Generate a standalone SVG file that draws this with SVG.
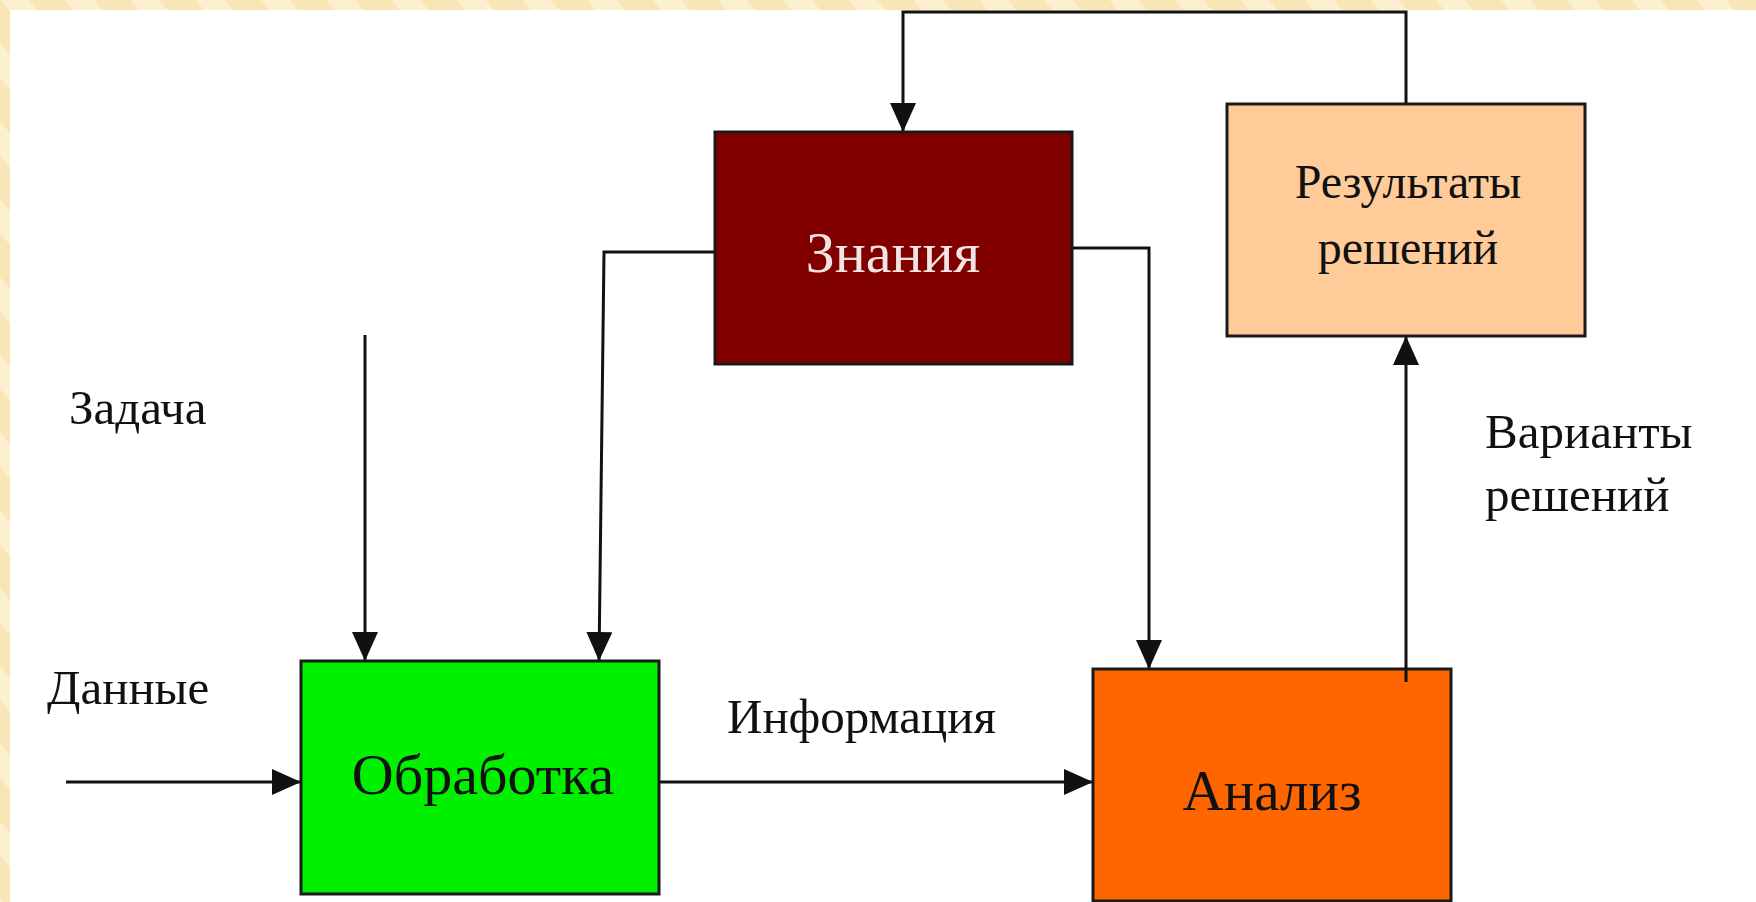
<svg xmlns="http://www.w3.org/2000/svg" width="1756" height="902" viewBox="0 0 1756 902">
  <defs>
    <pattern id="stripes" patternUnits="userSpaceOnUse" width="50" height="50" patternTransform="rotate(-40)">
      <rect width="50" height="50" fill="#F8E6B6"/>
      <rect width="22" height="50" fill="#FCF0D0"/>
    </pattern>
    <marker id="arrow" markerUnits="userSpaceOnUse" markerWidth="32" markerHeight="28" refX="29" refY="13" orient="auto">
      <path d="M0,0 L29,13 L0,26 z" fill="#111"/>
    </marker>
  </defs>
  <style>
    .box { stroke: #1a1a1a; stroke-width: 3; }
    .lbl { font-family: "Liberation Serif", "Times New Roman", serif; fill: #111; }
    .big { font-size: 58px; text-anchor: middle; }
    .mid { font-size: 48px; text-anchor: middle; }
    .side { font-size: 49px; }
    .conn { fill: none; stroke: #111; stroke-width: 3; }
  </style>

  <rect width="1756" height="902" fill="#FFFFFF"/>
  <rect x="0" y="0" width="1756" height="10" fill="url(#stripes)"/>
  <rect x="0" y="0" width="10" height="902" fill="url(#stripes)"/>

  <g id="connectors">
    <path class="conn" d="M1406,104 V12 H903 V132" marker-end="url(#arrow)"/>
    <path class="conn" d="M365,335 V661" marker-end="url(#arrow)"/>
    <path class="conn" d="M715,252 H604 L599,661" marker-end="url(#arrow)"/>
    <path class="conn" d="M1072,248 H1149 V669" marker-end="url(#arrow)"/>
    <path class="conn" d="M66,782 H301" marker-end="url(#arrow)"/>
    <path class="conn" d="M659,782 H1093" marker-end="url(#arrow)"/>
  </g>

  <g id="node-znaniya">
    <rect class="box" x="715" y="132" width="357" height="232" fill="#800000"/>
    <text class="lbl big" x="893" y="272" style="fill:#F3E4E4">Знания</text>
  </g>

  <g id="node-obrabotka">
    <rect class="box" x="301" y="661" width="358" height="233" fill="#00F000"/>
    <text class="lbl big" x="483" y="794">Обработка</text>
  </g>

  <g id="node-analiz">
    <rect class="box" x="1093" y="669" width="358" height="232" fill="#FF6600"/>
    <text class="lbl big" x="1272" y="810" style="font-size:57px">Анализ</text>
  </g>

  <g id="connector-up">
    <path class="conn" d="M1406,682 V336" marker-end="url(#arrow)"/>
  </g>

  <g id="node-rezultaty">
    <rect class="box" x="1227" y="104" width="358" height="232" fill="#FFCC99"/>
    <text class="lbl mid" x="1408" y="198">Результаты</text>
    <text class="lbl mid" x="1408" y="264">решений</text>
  </g>

  <g id="labels">
    <text class="lbl side" x="69" y="424">Задача</text>
    <text class="lbl side" x="47" y="704">Данные</text>
    <text class="lbl side" x="727" y="733">Информация</text>
    <text class="lbl side" x="1485" y="448">Варианты</text>
    <text class="lbl side" x="1485" y="511">решений</text>
  </g>
</svg>
